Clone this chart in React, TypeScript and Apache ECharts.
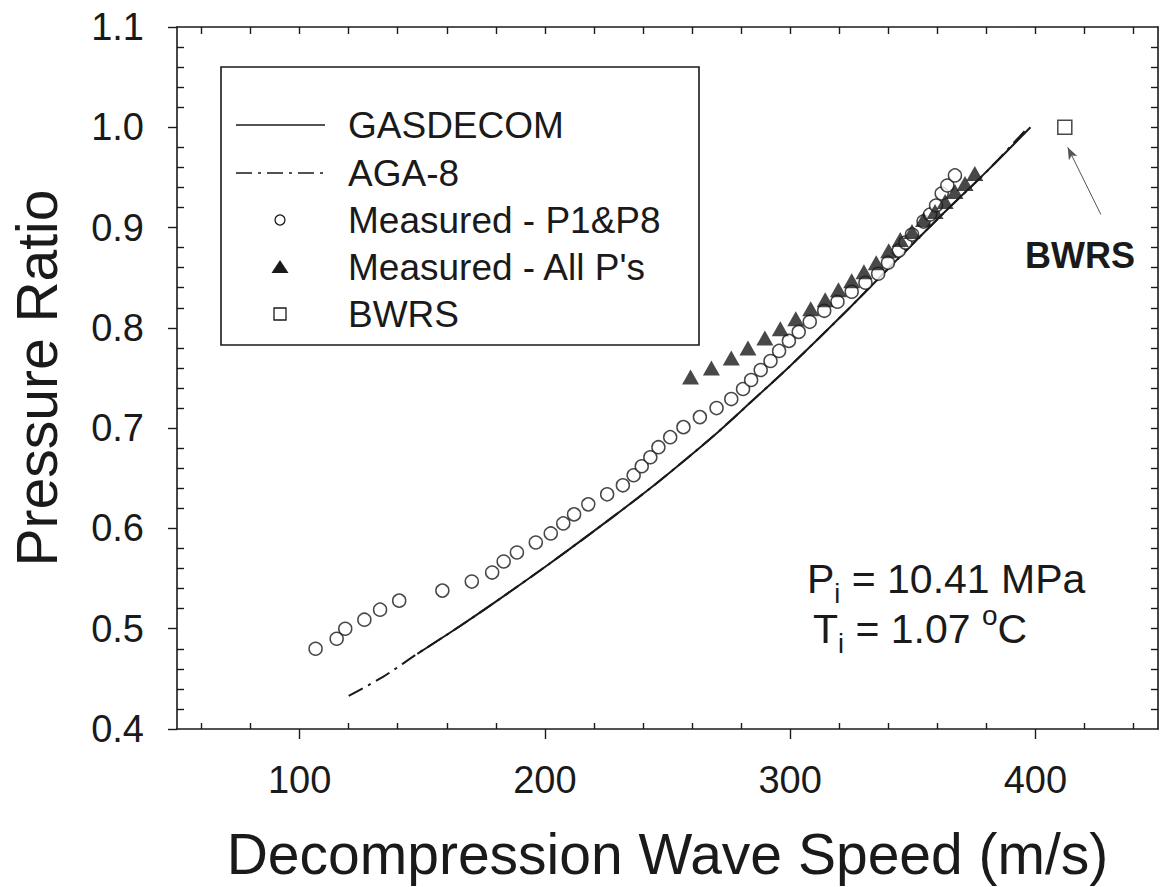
import React, { useEffect, useRef } from 'react';
import * as echarts from 'echarts';

const FONT = "'Liberation Sans', Arial, sans-serif";
const INK = '#1a1a1a';

// GASDECOM (solid)
const gasdecomX = [148, 165, 180, 202, 228, 244, 258, 271, 284, 300, 321, 342, 362, 381, 398];
const gasdecomY = [0.475, 0.502, 0.527, 0.565, 0.612, 0.642, 0.670, 0.697, 0.726, 0.762, 0.812, 0.864, 0.913, 0.958, 1.0];

// AGA-8 (dash-dot)
const aga8X = [120, 134, 148, 165, 180, 202, 228, 244, 258, 271, 284, 300, 321, 342, 362, 381, 397];
const aga8Y = [0.433, 0.452, 0.475, 0.502, 0.527, 0.565, 0.612, 0.642, 0.670, 0.697, 0.726, 0.762, 0.812, 0.864, 0.913, 0.958, 1.0];

// Measured - P1&P8 (open circles)
const p18X = [106.5, 115.1, 118.6, 126.4, 132.8, 140.6, 158.2, 170.2, 178.5, 183.2, 188.6, 196.3, 202.4, 207.5, 211.9, 217.7, 225.4, 231.8, 236.2, 239.5, 243.0, 246.3, 251.1, 256.5, 263.2, 270.0, 276.0, 280.8, 284.1, 288.0, 292.0, 295.5, 299.5, 303.5, 308.0, 313.9, 319.3, 325.1, 330.7, 335.9, 339.9, 344.3, 347.0, 349.7, 354.4, 357.1, 359.5, 361.8, 364.1, 367.2];
const p18Y = [0.480, 0.490, 0.500, 0.509, 0.519, 0.528, 0.538, 0.547, 0.556, 0.567, 0.576, 0.586, 0.595, 0.605, 0.614, 0.624, 0.634, 0.643, 0.653, 0.662, 0.671, 0.681, 0.691, 0.701, 0.711, 0.720, 0.729, 0.739, 0.748, 0.758, 0.767, 0.777, 0.787, 0.796, 0.806, 0.817, 0.826, 0.836, 0.845, 0.854, 0.865, 0.877, 0.885, 0.893, 0.906, 0.913, 0.922, 0.934, 0.942, 0.952];

// Measured - All P's (filled triangles)
const allPX = [259.4, 267.9, 276.0, 282.8, 289.7, 296.0, 302.3, 308.4, 314.3, 319.7, 325.1, 330.1, 335.1, 340.2, 344.9, 349.7, 354.4, 359.1, 363.2, 367.2, 371.3, 375.3];
const allPY = [0.751, 0.760, 0.770, 0.780, 0.790, 0.799, 0.809, 0.819, 0.828, 0.838, 0.847, 0.856, 0.865, 0.877, 0.888, 0.896, 0.908, 0.916, 0.926, 0.936, 0.944, 0.954];

// BWRS (open square)
const bwrsX = [412];
const bwrsY = [1.0];

// Arrow annotation (tail -> tip) in data units
const arrowFrom = [426.7, 0.913];
const arrowTo = [413.2, 0.98];

// Axis ticks
const xMajorTicks = [100, 200, 300, 400];
const xMin = 50;
const xMax = 450;
const yMin = 0.4;
const yMax = 1.1;

const legendNames = ['GASDECOM', 'AGA-8', 'Measured - P1&P8', "Measured - All P's", 'BWRS'];

const zip = (xs: number[], ys: number[]) => xs.map((x, i) => [x, ys[i]]);

function buildOption() {
  const xAll: number[] = [];
  for (let v = 60; v <= 440; v += 20) xAll.push(v);
  const xMinor = xAll.filter((v) => v % 100 !== 0);
  const yAll: number[] = [];
  for (let k = 21; k <= 54; k++) yAll.push(Math.round(k * 2) / 100);
  const yMinor = yAll.filter((v) => Math.round(v * 100) % 10 !== 0);

  const axisLine = { show: true, lineStyle: { color: INK, width: 1.6 } };
  const tickStyle = { color: INK, width: 1.4 };

  const rows = [125, 173, 220, 267, 314];
  const lx0 = 236;
  const lx1 = 325;
  const lcx = 280;
  const textX = 348;
  const legendFont = 37;

  return {
    animation: false,
    backgroundColor: '#ffffff',
    grid: { left: 171, right: 5, top: 27, bottom: 150, containLabel: false },
    xAxis: [
      {
        type: 'value',
        min: xMin,
        max: xMax,
        interval: 50,
        position: 'bottom',
        axisLine,
        axisTick: { show: true, inside: false, length: 10, customValues: xMajorTicks, lineStyle: tickStyle },
        axisLabel: {
          show: true,
          customValues: xMajorTicks,
          margin: 32,
          fontSize: 38,
          fontFamily: FONT,
          color: INK,
        },
        splitLine: { show: false },
        name: 'Decompression Wave Speed (m/s)',
        nameLocation: 'middle',
        nameGap: 96,
        nameTextStyle: { fontSize: 57, fontFamily: FONT, color: INK },
      },
      {
        type: 'value',
        min: xMin,
        max: xMax,
        interval: 10,
        position: 'bottom',
        axisLine: { show: false },
        axisTick: { show: true, inside: true, length: 6, customValues: xMinor, lineStyle: tickStyle },
        axisLabel: { show: false },
        splitLine: { show: false },
      },
      {
        type: 'value',
        min: xMin,
        max: xMax,
        interval: 10,
        position: 'top',
        axisLine,
        axisTick: { show: true, inside: true, length: 7, customValues: xAll, lineStyle: tickStyle },
        axisLabel: { show: false },
        splitLine: { show: false },
      },
    ],
    yAxis: [
      {
        type: 'value',
        min: yMin,
        max: yMax,
        interval: 0.1,
        position: 'left',
        axisLine,
        axisTick: { show: true, inside: false, length: 9, lineStyle: tickStyle },
        axisLabel: {
          show: true,
          margin: 33,
          fontSize: 38,
          fontFamily: FONT,
          color: INK,
          formatter: (v: number) => v.toFixed(1),
        },
        splitLine: { show: false },
        name: 'Pressure Ratio',
        nameLocation: 'middle',
        nameGap: 112,
        nameTextStyle: { fontSize: 57, fontFamily: FONT, color: INK },
      },
      {
        type: 'value',
        min: yMin,
        max: yMax,
        interval: 0.1,
        position: 'left',
        axisLine: { show: false },
        axisTick: { show: true, inside: true, length: 7, customValues: yMinor, lineStyle: tickStyle },
        axisLabel: { show: false },
        splitLine: { show: false },
      },
      {
        type: 'value',
        min: yMin,
        max: yMax,
        interval: 0.1,
        position: 'right',
        axisLine,
        axisTick: { show: true, inside: true, length: 7, customValues: yAll, lineStyle: tickStyle },
        axisLabel: { show: false },
        splitLine: { show: false },
      },
    ],
    series: [
      {
        name: legendNames[0],
        type: 'line',
        data: zip(gasdecomX, gasdecomY),
        showSymbol: false,
        symbol: 'none',
        smooth: 0.3,
        lineStyle: { color: INK, width: 2, type: 'solid' },
        z: 3,
      },
      {
        name: legendNames[1],
        type: 'line',
        data: zip(aga8X, aga8Y),
        showSymbol: false,
        symbol: 'none',
        smooth: 0.3,
        lineStyle: { color: INK, width: 2, type: [16, 6, 3, 6] },
        z: 3,
      },
      {
        name: legendNames[2],
        type: 'scatter',
        data: zip(p18X, p18Y),
        symbol: 'circle',
        symbolSize: 13,
        itemStyle: { color: '#ffffff', borderColor: INK, borderWidth: 1.5 },
        z: 4,
      },
      {
        name: legendNames[3],
        type: 'scatter',
        data: zip(allPX, allPY),
        symbol: 'triangle',
        symbolSize: [17, 15],
        itemStyle: { color: INK },
        z: 5,
      },
      {
        name: legendNames[4],
        type: 'scatter',
        data: zip(bwrsX, bwrsY),
        symbol: 'rect',
        symbolSize: 14,
        itemStyle: { color: '#ffffff', borderColor: INK, borderWidth: 1.5 },
        z: 5,
        markLine: {
          silent: true,
          symbol: ['none', 'arrow'],
          symbolSize: [7, 12],
          label: { show: false },
          lineStyle: { color: '#555', width: 1, type: 'solid' },
          data: [[{ coord: arrowFrom }, { coord: arrowTo }]],
        },
      },
    ],
    graphic: [
      {
        type: 'group',
        children: [
          {
            type: 'rect',
            shape: { x: 221, y: 67, width: 478, height: 278 },
            style: { fill: '#ffffff', stroke: INK, lineWidth: 1.6 },
            z: 10,
          },
          {
            type: 'line',
            shape: { x1: lx0, y1: rows[0], x2: lx1, y2: rows[0] },
            style: { stroke: INK, lineWidth: 1.5 },
            z: 11,
          },
          {
            type: 'line',
            shape: { x1: lx0, y1: rows[1], x2: lx1, y2: rows[1] },
            style: { stroke: INK, lineWidth: 1.5, lineDash: [16, 6, 3, 6] },
            z: 11,
          },
          {
            type: 'circle',
            shape: { cx: lcx, cy: rows[2], r: 5 },
            style: { fill: '#ffffff', stroke: INK, lineWidth: 1.3 },
            z: 11,
          },
          {
            type: 'polygon',
            shape: { points: [[lcx, rows[3] - 7], [lcx - 8.5, rows[3] + 6], [lcx + 8.5, rows[3] + 6]] },
            style: { fill: INK },
            z: 11,
          },
          {
            type: 'rect',
            shape: { x: lcx - 6, y: rows[4] - 6, width: 12, height: 12 },
            style: { fill: '#ffffff', stroke: INK, lineWidth: 1.3 },
            z: 11,
          },
          ...legendNames.map((n, i) => ({
            type: 'text',
            x: textX,
            y: rows[i],
            z: 11,
            style: {
              text: n,
              fontSize: legendFont,
              fontFamily: FONT,
              fill: INK,
              verticalAlign: 'middle',
              align: 'left',
            },
          })),
        ],
      },
      {
        type: 'text',
        x: 1080,
        y: 255,
        z: 11,
        style: {
          text: 'BWRS',
          fontSize: 36,
          fontWeight: 'bold',
          fontFamily: FONT,
          fill: INK,
          align: 'center',
          verticalAlign: 'middle',
        },
      },
      {
        type: 'text',
        x: 807,
        y: 579,
        z: 11,
        style: {
          text: '{m|P}{s|i}{m| = 10.41 MPa}',
          fontFamily: FONT,
          fill: INK,
          align: 'left',
          verticalAlign: 'middle',
          rich: {
            m: { fontSize: 41, lineHeight: 56, fontFamily: FONT, fill: INK, verticalAlign: 'middle' },
            s: { fontSize: 27, lineHeight: 26, fontFamily: FONT, fill: INK, verticalAlign: 'bottom' },
          },
        },
      },
      {
        type: 'text',
        x: 813,
        y: 629,
        z: 11,
        style: {
          text: '{m|T}{s|i}{m| = 1.07 }{o|o}{m|C}',
          fontFamily: FONT,
          fill: INK,
          align: 'left',
          verticalAlign: 'middle',
          rich: {
            m: { fontSize: 41, lineHeight: 56, fontFamily: FONT, fill: INK, verticalAlign: 'middle' },
            s: { fontSize: 27, lineHeight: 26, fontFamily: FONT, fill: INK, verticalAlign: 'bottom' },
            o: { fontSize: 28, lineHeight: 30, fontFamily: FONT, fill: INK, verticalAlign: 'top' },
          },
        },
      },
    ],
  };
}

export default function App() {
  const ref = useRef<HTMLDivElement>(null);
  useEffect(() => {
    if (!ref.current) return;
    const chart = echarts.init(ref.current, null, { renderer: 'svg' });
    chart.setOption(buildOption() as any);
    return () => {
      chart.dispose();
    };
  }, []);
  return (
    <div
      ref={ref}
      style={{ position: 'fixed', left: 0, top: 0, width: 1163, height: 887, background: '#ffffff' }}
    />
  );
}
